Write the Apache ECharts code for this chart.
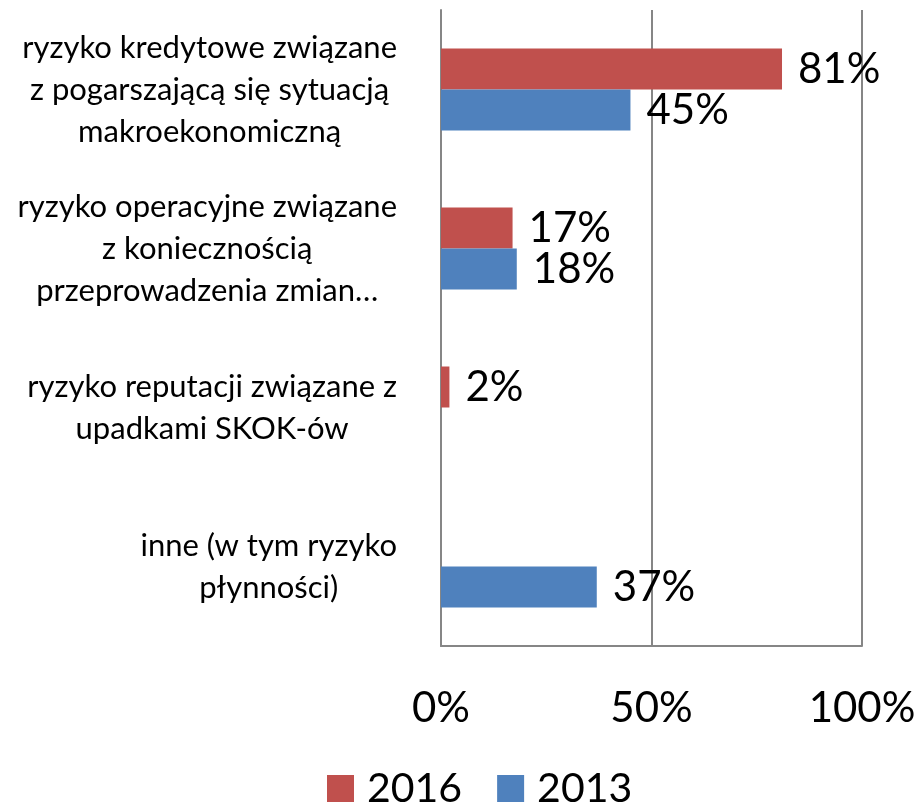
<!DOCTYPE html>
<html>
<head>
<meta charset="utf-8">
<script src="https://cdn.jsdelivr.net/npm/echarts@6/dist/echarts.min.js"></script>
<style>
  html, body { margin: 0; padding: 0; background: #fff; }
  #chart { width: 920px; height: 807px; }
</style>
</head>
<body>
<div id="chart"></div>
<script>
// kategorie ryzyka (od góry)
const categories = [
    'ryzyko kredytowe związane\nz pogarszającą się sytuacją\nmakroekonomiczną',
    'ryzyko operacyjne związane\nz koniecznością\nprzeprowadzenia zmian…',
    'ryzyko reputacji związane z\nupadkami SKOK-ów',
    'inne (w tym ryzyko\npłynności)'
];
const values2016 = [81, 17, 2, null];
const values2013 = [45, 18, null, 37];
const xTicks = [0, 50, 100];

const chart = echarts.init(document.getElementById('chart'));
const FONT = 'Lato';

function barSeries(name, data, color) {
    return {
        name: name,
        type: 'bar',
        data: data,
        barWidth: 41,
        barGap: '0%',
        itemStyle: { color: color },
        label: {
            show: true,
            position: 'right',
            distance: 16,
            formatter: p => p.value + '%',
            fontFamily: FONT,
            fontSize: 42,
            color: '#000'
        }
    };
}

chart.setOption({
    animation: false,
    textStyle: { fontFamily: FONT },
    grid: { left: 441, right: 58, top: 10, bottom: 161 },
    legend: {
        left: 327,
        top: 768,
        padding: 0,
        icon: 'rect',
        itemWidth: 27,
        itemHeight: 27,
        itemGap: 35,
        textStyle: { fontFamily: FONT, fontSize: 41, color: '#000', padding: [0, 0, 0, 8] },
        data: ['2016', '2013']
    },
    xAxis: {
        type: 'value',
        min: xTicks[0],
        max: xTicks[xTicks.length - 1],
        interval: 50,
        axisLine: { show: true, lineStyle: { color: '#868686', width: 2 } },
        axisTick: { show: false },
        splitLine: { show: true, lineStyle: { color: '#868686', width: 2 } },
        axisLabel: {
            margin: 41,
            fontFamily: FONT,
            fontSize: 42,
            color: '#000',
            formatter: v => v + '%'
        }
    },
    yAxis: {
        type: 'category',
        inverse: true,
        data: categories,
        axisLine: { show: true, lineStyle: { color: '#868686', width: 2 } },
        axisTick: { show: false },
        axisLabel: {
            margin: 44,
            fontFamily: FONT,
            fontSize: 31,
            color: '#000',
            formatter: v => v.split('\n').map(l => '{c|' + l + '}').join('\n'),
            rich: {
                c: { align: 'center', fontFamily: FONT, fontSize: 31, lineHeight: 42, color: '#000' }
            }
        }
    },
    series: [
        barSeries('2016', values2016, '#C0504D'),
        barSeries('2013', values2013, '#4F81BD')
    ]
});
</script>
</body>
</html>
